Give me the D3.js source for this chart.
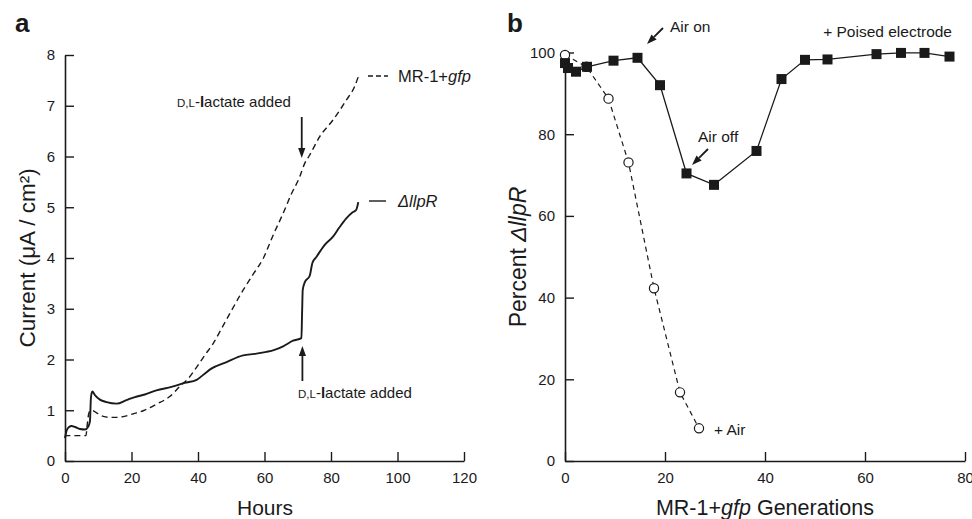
<!DOCTYPE html>
<html>
<head>
<meta charset="utf-8">
<script src="https://cdn.jsdelivr.net/npm/d3@7"></script>
<style>
  body { margin: 0; background: #fff; }
  text { font-family: "Liberation Sans", Arial, sans-serif; fill: #1a1a1a; }
</style>
</head>
<body>
<svg id="fig" width="972" height="519"></svg>
<script>
// ---- panel a: current vs hours ----
const mrHours   = [0, 0.5, 3, 6.3, 6.7, 7.2, 8, 9.5, 11.5, 13.5, 16, 18.5, 20.5, 23.5, 27.5, 31.5, 35, 37, 39.6, 42, 44.6, 47, 49.6, 53.6, 56.6, 59.6, 62.6, 65.6, 68, 70.6, 72, 73.6, 76.6, 80.6, 84.6, 87.1, 88.3];
const mrCurrent = [0.47, 0.5, 0.5, 0.5, 0.72, 0.95, 1.0, 0.95, 0.88, 0.86, 0.86, 0.89, 0.93, 0.99, 1.12, 1.27, 1.5, 1.62, 1.85, 2.08, 2.32, 2.6, 2.91, 3.37, 3.68, 3.99, 4.45, 4.88, 5.25, 5.6, 5.85, 6.03, 6.39, 6.72, 7.11, 7.38, 7.59];

const llpHours   = [0, 0.5, 1.2, 2, 3, 4.5, 6, 7, 7.5, 7.8, 8.2, 9, 10.5, 12.5, 15.5, 18.5, 21, 24, 27.5, 32, 36, 39.6, 42, 44, 48.6, 53.6, 57, 60.6, 63, 65.6, 68.6, 71.1, 71.3, 71.5, 72.1, 73.6, 74.4, 75.6, 78, 80.6, 82.5, 84.6, 86.5, 87.6, 88.2];
const llpCurrent = [0.45, 0.6, 0.67, 0.69, 0.67, 0.63, 0.62, 0.68, 0.78, 1.25, 1.37, 1.3, 1.21, 1.16, 1.13, 1.2, 1.26, 1.31, 1.39, 1.46, 1.54, 1.6, 1.72, 1.82, 1.95, 2.08, 2.11, 2.15, 2.19, 2.26, 2.37, 2.42, 2.9, 3.37, 3.52, 3.65, 3.9, 4.02, 4.25, 4.42, 4.6, 4.78, 4.9, 4.95, 5.1];

const hourTicks = [0, 20, 40, 60, 80, 100, 120];
const currentTicks = [0, 1, 2, 3, 4, 5, 6, 7, 8];

// ---- panel b: percent vs generations ----
const electrodeGen = [0, 0.6, 2.2, 4.4, 9.7, 14.5, 19, 24.3, 29.8, 38.3, 43.3, 48, 52.5, 62.3, 67.2, 71.9, 76.9];
const electrodePct = [97.4, 96.2, 95.3, 96.5, 98.0, 98.7, 92.0, 70.4, 67.6, 75.9, 93.5, 98.2, 98.3, 99.6, 99.9, 99.9, 99.0];

const airGen = [0, 4.3, 8.7, 12.7, 17.8, 23, 26.8];
const airPct = [99.4, 96.5, 88.7, 73.1, 42.3, 16.8, 8.0];

const genTicks = [0, 20, 40, 60, 80];
const pctTicks = [0, 20, 40, 60, 80, 100];

const svg = d3.select("#fig");
const ink = "#1a1a1a";

const xA = d3.scaleLinear().domain([0, 120]).range([65, 464]);
const yA = d3.scaleLinear().domain([0, 8]).range([461, 55]);
const xB = d3.scaleLinear().domain([0, 80]).range([565, 965]);
const yB = d3.scaleLinear().domain([0, 100]).range([461, 52.5]);

// axis with inward ticks + minor ticks
function drawAxes(x, y, xMajor, xMinorStep, yMajor, yMinorStep) {
  const x0 = x.range()[0], y0 = y.range()[0];
  const xMinor = d3.range(x.domain()[0], x.domain()[1] + 1e-9, xMinorStep);
  const yMinor = d3.range(y.domain()[0], y.domain()[1] + 1e-9, yMinorStep);

  const gx = svg.append("g").attr("transform", `translate(0,${y0})`);
  gx.call(d3.axisBottom(x).tickValues(xMinor).tickSize(-5).tickFormat("").tickSizeOuter(0));
  gx.call(d3.axisBottom(x).tickValues(xMajor).tickSize(-9).tickPadding(11).tickSizeOuter(0));

  const gy = svg.append("g").attr("transform", `translate(${x0},0)`);
  gy.call(d3.axisLeft(y).tickValues(yMinor).tickSize(-5).tickFormat("").tickSizeOuter(0));
  gy.call(d3.axisLeft(y).tickValues(yMajor).tickSize(-9).tickPadding(10).tickSizeOuter(0));

  [gx, gy].forEach(g => {
    g.selectAll("path.domain").attr("stroke", ink).attr("stroke-width", 1.6);
    g.selectAll(".tick line").attr("stroke", ink).attr("stroke-width", 1.4);
    g.selectAll(".tick text").attr("font-size", 15).attr("fill", ink)
      .style("font-family", '"Liberation Sans", Arial, sans-serif');
  });
}

function arrow(x1, y1, x2, y2) {
  const a = Math.atan2(y2 - y1, x2 - x1), len = 10, w = 3.6;
  const bx = x2 - len * Math.cos(a), by = y2 - len * Math.sin(a);
  svg.append("line").attr("x1", x1).attr("y1", y1).attr("x2", bx).attr("y2", by)
    .attr("stroke", ink).attr("stroke-width", 1.8);
  svg.append("path")
    .attr("d", `M${x2},${y2}L${bx - w * Math.sin(a)},${by + w * Math.cos(a)}L${bx + w * Math.sin(a)},${by - w * Math.cos(a)}Z`)
    .attr("fill", ink);
}

function lactateLabel(x, y) {
  const t = svg.append("text").attr("x", x).attr("y", y).attr("font-size", 15);
  t.append("tspan").attr("font-size", 11.5).text("D,L");
  t.append("tspan").text("-");
  t.append("tspan").attr("font-weight", "bold").text("l");
  t.append("tspan").text("actate added");
}

// ================= panel a =================
drawAxes(xA, yA, hourTicks, 5, currentTicks, 0.2);

const lineA = d3.line().x(d => xA(d[0])).y(d => yA(d[1])).curve(d3.curveMonotoneX);

svg.append("path").datum(d3.zip(mrHours, mrCurrent)).attr("d", lineA)
  .attr("fill", "none").attr("stroke", ink).attr("stroke-width", 1.4)
  .attr("stroke-dasharray", "6,4");

svg.append("path").datum(d3.zip(llpHours, llpCurrent)).attr("d", lineA)
  .attr("fill", "none").attr("stroke", ink).attr("stroke-width", 1.9);

// annotations
lactateLabel(177, 107);
arrow(xA(71.2), 117, xA(71.2), 158);
lactateLabel(298, 398);
arrow(xA(71.4), 381, xA(71.4), 346);

// legend
svg.append("line").attr("x1", 368).attr("x2", 388).attr("y1", 76).attr("y2", 76)
  .attr("stroke", ink).attr("stroke-width", 1.4).attr("stroke-dasharray", "5,3");
const l1 = svg.append("text").attr("x", 398).attr("y", 81.5).attr("font-size", 16.5);
l1.append("tspan").text("MR-1+");
l1.append("tspan").attr("font-style", "italic").text("gfp");

svg.append("line").attr("x1", 369).attr("x2", 386).attr("y1", 201).attr("y2", 201)
  .attr("stroke", ink).attr("stroke-width", 1.4);
svg.append("text").attr("x", 398).attr("y", 206.5).attr("font-size", 16.5)
  .attr("font-style", "italic").text("\u0394llpR");

// titles
svg.append("text").attr("x", 15).attr("y", 32).attr("font-size", 26).attr("font-weight", "bold").text("a");
svg.append("text").attr("x", 265).attr("y", 515).attr("font-size", 21).attr("text-anchor", "middle").text("Hours");
svg.append("text").attr("transform", "translate(35,258) rotate(-90)").attr("font-size", 22.5)
  .attr("text-anchor", "middle").text("Current (\u03bcA / cm\u00b2)");

// ================= panel b =================
drawAxes(xB, yB, genTicks, 4, pctTicks, 4);

const lineB = d3.line().x(d => xB(d[0])).y(d => yB(d[1]));

svg.append("path").datum(d3.zip(airGen, airPct)).attr("d", lineB)
  .attr("fill", "none").attr("stroke", ink).attr("stroke-width", 1.2)
  .attr("stroke-dasharray", "5,4");
svg.selectAll("circle.air").data(d3.zip(airGen, airPct)).join("circle")
  .attr("class", "air").attr("cx", d => xB(d[0])).attr("cy", d => yB(d[1])).attr("r", 4.6)
  .attr("fill", "#fff").attr("stroke", ink).attr("stroke-width", 1.2);

svg.append("path").datum(d3.zip(electrodeGen, electrodePct)).attr("d", lineB)
  .attr("fill", "none").attr("stroke", ink).attr("stroke-width", 1.3);
svg.selectAll("rect.elec").data(d3.zip(electrodeGen, electrodePct)).join("rect")
  .attr("class", "elec").attr("x", d => xB(d[0]) - 5).attr("y", d => yB(d[1]) - 5)
  .attr("width", 10).attr("height", 10).attr("fill", ink);

// annotations
svg.append("text").attr("x", 670).attr("y", 32).attr("font-size", 15.5).text("Air on");
arrow(663, 28, 647, 44);
svg.append("text").attr("x", 952).attr("y", 37).attr("font-size", 15.5).attr("text-anchor", "end").text("+ Poised electrode");
svg.append("text").attr("x", 698).attr("y", 142).attr("font-size", 15.5).text("Air off");
arrow(708, 149, 692, 165);
svg.append("text").attr("x", 714).attr("y", 435).attr("font-size", 15.5).text("+ Air");

// titles
svg.append("text").attr("x", 507).attr("y", 32).attr("font-size", 26).attr("font-weight", "bold").text("b");
const tb = svg.append("text").attr("x", 765).attr("y", 515).attr("font-size", 21.5).attr("text-anchor", "middle");
tb.append("tspan").text("MR-1+");
tb.append("tspan").attr("font-style", "italic").text("gfp");
tb.append("tspan").text(" Generations");
const yb = svg.append("text").attr("transform", "translate(526,257) rotate(-90)").attr("font-size", 23)
  .attr("text-anchor", "middle");
yb.append("tspan").text("Percent ");
yb.append("tspan").attr("font-style", "italic").text("\u0394llpR");
</script>
</body>
</html>
